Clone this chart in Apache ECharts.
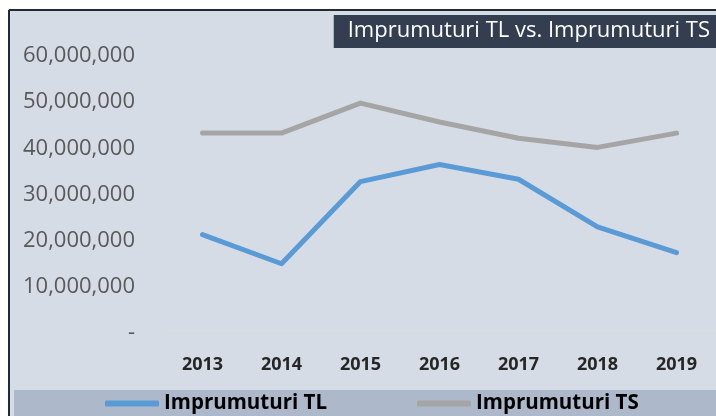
<!DOCTYPE html>
<html lang="en">
<head>
  <meta charset="UTF-8">
  <title>Imprumuturi TL vs. Imprumuturi TS</title>
  <script src="https://cdn.jsdelivr.net/npm/echarts@6/dist/echarts.min.js"></script>
  <style>
    html, body { margin: 0; padding: 0; background: #fff; }
    #chart { width: 716px; height: 416px; }
  </style>
</head>
<body>
  <div id="chart"></div>
</body>
</html>
<script>
  const years = ['2013', '2014', '2015', '2016', '2017', '2018', '2019'];
  const imprumuturiTL = [21300000, 15000000, 32800000, 36500000, 33300000, 23000000, 17400000];
  const imprumuturiTS = [43300000, 43300000, 49800000, 45700000, 42200000, 40200000, 43300000];

  const font = '"Open Sans", Lato, sans-serif';
  let chart = echarts.init(document.getElementById('chart'));

  chart.setOption({
    backgroundColor: '#ffffff',
    textStyle: { fontFamily: font },
    graphic: [
      // panel background + dark frame
      { type: 'rect', left: 8, top: 9, shape: { width: 708, height: 407 }, style: { fill: '#d6dce5' }, z: -10 },
      { type: 'rect', left: 14, top: 390, shape: { width: 702, height: 26 }, style: { fill: '#adb9ca' }, z: -9 },
      { type: 'line', shape: { x1: 9, y1: 10, x2: 716, y2: 10 }, style: { stroke: '#222a35', lineWidth: 2 }, z: -8 },
      { type: 'line', shape: { x1: 9, y1: 10, x2: 9, y2: 416 }, style: { stroke: '#222a35', lineWidth: 2 }, z: -8 }
    ],
    title: {
      text: 'Imprumuturi TL vs. Imprumuturi TS',
      right: 0,
      top: 15,
      backgroundColor: '#333f50',
      padding: [5, 6, 6, 14],
      textStyle: { color: '#ffffff', fontSize: 22, fontWeight: 'normal', fontFamily: font }
    },
    legend: {
      bottom: -3,
      left: 100,
      itemWidth: 54,
      itemHeight: 6,
      itemGap: 90,
      icon: 'roundRect',
      textStyle: { color: '#000000', fontSize: 20.5, fontWeight: 'bold', fontFamily: font },
      data: ['Imprumuturi TL', 'Imprumuturi TS']
    },
    grid: { left: 163, right: -1, top: 56, bottom: 83, containLabel: false },
    xAxis: {
      type: 'category',
      data: years,
      boundaryGap: true,
      axisLine: { show: true, lineStyle: { color: '#d9d9d9', width: 1 } },
      axisTick: { show: false },
      axisLabel: { color: '#262626', fontSize: 18, fontWeight: 'bold', margin: 23, fontFamily: font }
    },
    yAxis: {
      type: 'value',
      min: 0,
      max: 60000000,
      interval: 10000000,
      splitLine: { show: false },
      axisLine: { show: false },
      axisTick: { show: false },
      axisLabel: {
        color: '#595959',
        fontSize: 22,
        margin: 28,
        padding: [4, 0, 0, 0],
        fontFamily: font,
        formatter: v => v === 0 ? '-' : v.toLocaleString('en-US')
      }
    },
    series: [
      {
        name: 'Imprumuturi TL',
        type: 'line',
        data: imprumuturiTL,
        symbol: 'none',
        color: '#5b9bd5',
        lineStyle: { width: 5, cap: 'round', join: 'round' }
      },
      {
        name: 'Imprumuturi TS',
        type: 'line',
        data: imprumuturiTS,
        symbol: 'none',
        color: '#a5a5a5',
        lineStyle: { width: 5, cap: 'round', join: 'round' }
      }
    ]
  });
</script>
